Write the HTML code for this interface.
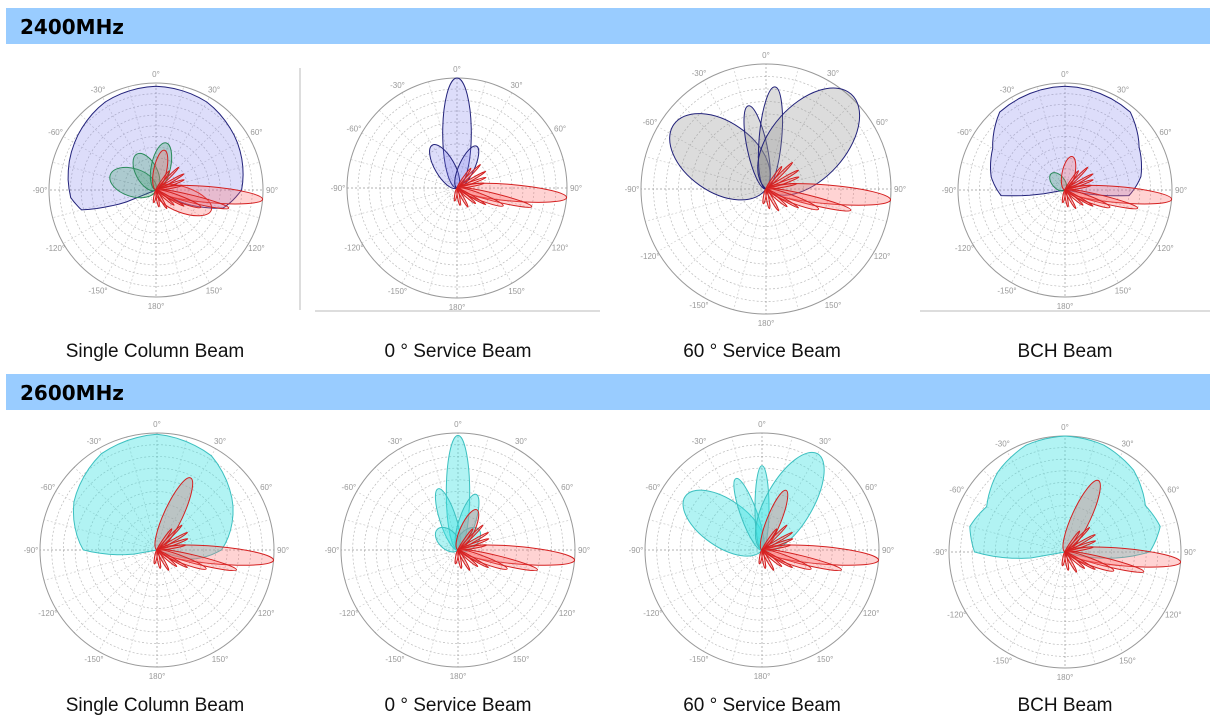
<!DOCTYPE html>
<html><head><meta charset="utf-8"><style>
html,body{margin:0;padding:0;background:#fff;width:1210px;height:720px;overflow:hidden;position:relative}
.bar{position:absolute;left:6px;width:1204px;height:36px;background:#99ccff;font:bold 20px "DejaVu Sans",sans-serif;line-height:38px;color:#000}
.bar span{margin-left:14px}
.cap{position:absolute;width:300px;text-align:center;font:19px "Liberation Sans",sans-serif;color:#111}
svg{position:absolute;left:0;top:0}
</style></head><body>
<div class="bar" style="top:8px"><span>2400MHz</span></div>
<div class="bar" style="top:374px"><span>2600MHz</span></div>
<div class="cap" style="left:5px;top:341px">Single Column Beam</div>
<div class="cap" style="left:308px;top:341px">0 ° Service Beam</div>
<div class="cap" style="left:612px;top:341px">60 ° Service Beam</div>
<div class="cap" style="left:915px;top:341px">BCH Beam</div>
<div class="cap" style="left:5px;top:695px">Single Column Beam</div>
<div class="cap" style="left:308px;top:695px">0 ° Service Beam</div>
<div class="cap" style="left:612px;top:695px">60 ° Service Beam</div>
<div class="cap" style="left:915px;top:695px">BCH Beam</div>
<svg id="s" width="1210" height="720" xmlns="http://www.w3.org/2000/svg">
<line x1="300" y1="68" x2="300" y2="310" stroke="#bbb"/>
<line x1="315" y1="311" x2="600" y2="311" stroke="#bbb"/>
<line x1="920" y1="311" x2="1210" y2="311" stroke="#bbb"/>
</svg>
<script>
var s=document.getElementById('s'),NS='http://www.w3.org/2000/svg';
function el(t,a,txt){var e=document.createElementNS(NS,t);for(var k in a)e.setAttribute(k,a[k]);if(txt)e.textContent=txt;s.appendChild(e);return e;}
function P(cx,cy,r,th){var a=th*Math.PI/180;return [cx+r*Math.sin(a),cy-r*Math.cos(a)];}
function grid(cx,cy,R){
 for(var i=1;i<=9;i++)el('circle',{cx:cx,cy:cy,r:R*i/10,fill:'none',stroke:'#bbb','stroke-width':0.7,'stroke-dasharray':'2,2'});
 for(var t=0;t<360;t+=15){var p=P(cx,cy,R,t);el('line',{x1:cx,y1:cy,x2:p[0],y2:p[1],stroke:(t%90?'#ccc':'#999'),'stroke-width':0.7,'stroke-dasharray':'2,2'});}
 el('circle',{cx:cx,cy:cy,r:R,fill:'none',stroke:'#999','stroke-width':1});
 var lb={0:'0°',30:'30°',60:'60°',90:'90°',120:'120°',150:'150°',180:'180°',210:'-150°',240:'-120°',270:'-90°',300:'-60°',330:'-30°'};
 for(var t in lb){var p=P(cx,cy,R+9,+t);el('text',{x:p[0],y:p[1]+3,'font-size':8,'font-family':'Liberation Sans','text-anchor':'middle',fill:'#999'},lb[t]);}
}
function blob(cx,cy,R,pts,fill,stroke){
 var d='M'+cx+','+cy;
 for(var i=0;i<pts.length-1;i++){var a=pts[i],b=pts[i+1];for(var j=0;j<6;j++){var f=j/6,th=a[0]+(b[0]-a[0])*f,r=a[1]+(b[1]-a[1])*f;var p=P(cx,cy,R*r,th);d+='L'+p[0].toFixed(1)+','+p[1].toFixed(1);}}
 var l=pts[pts.length-1],p=P(cx,cy,R*l[1],l[0]);d+='L'+p[0]+','+p[1]+'Z';
 el('path',{d:d,fill:fill,stroke:stroke,'stroke-width':1});
}
function lobe(cx,cy,R,a,L,b,fill,stroke){
 var c=P(cx,cy,R*L/2,a);
 el('ellipse',{cx:c[0],cy:c[1],rx:R*b,ry:R*L/2,transform:'rotate('+a+' '+c[0]+' '+c[1]+')',fill:fill,stroke:stroke,'stroke-width':1});
}
var RF='rgba(255,110,110,0.3)',RS='#d42020',BF='rgba(120,120,235,0.25)',BS='#22227a',GF='rgba(140,140,140,0.3)',CF='rgba(60,225,225,0.4)',CS='#3cc0c0',GRF='rgba(60,160,110,0.3)',GRS='#2a8a5a',PF='rgba(200,140,140,0.45)';
function reds(cx,cy,R){
 lobe(cx,cy,R,95,1.0,0.075,RF,RS);lobe(cx,cy,R,104,0.7,0.035,RF,RS);lobe(cx,cy,R,111,0.45,0.03,RF,RS);
 [[60,.3],[70,.28],[80,.25],[120,.3],[130,.22],[150,.2],[170,.16],[45,.3],[35,.22],[190,.12]].forEach(function(x){lobe(cx,cy,R,x[0],x[1],0.01,RF,RS);});
}
// Row1
var c=[156,190,107];grid(c[0],c[1],c[2]);
blob(c[0],c[1],c[2],[[-112,0.3],[-105,0.72],[-95,0.8],[-60,0.88],[-30,0.95],[0,0.97],[30,0.95],[60,0.88],[90,0.8],[105,0.65],[115,0.3],[120,0]],BF,BS);
lobe(c[0],c[1],c[2],-72,0.45,0.13,GRF,GRS);lobe(c[0],c[1],c[2],-28,0.38,0.1,GRF,GRS);lobe(c[0],c[1],c[2],12,0.45,0.09,GRF,GRS);
lobe(c[0],c[1],c[2],12,0.38,0.06,RF,RS);lobe(c[0],c[1],c[2],110,0.55,0.12,RF,RS);reds(c[0],c[1],c[2]);
c=[457,188,110];grid(c[0],c[1],c[2]);
lobe(c[0],c[1],c[2],0,1.0,0.13,BF,BS);lobe(c[0],c[1],c[2],-30,0.45,0.09,BF,BS);lobe(c[0],c[1],c[2],25,0.42,0.07,BF,BS);reds(c[0],c[1],c[2]);
c=[766,189,125];grid(c[0],c[1],c[2]);
lobe(c[0],c[1],c[2],-55,0.9,0.28,GF,BS);lobe(c[0],c[1],c[2],-12,0.68,0.08,GF,BS);lobe(c[0],c[1],c[2],5,0.82,0.09,GF,BS);lobe(c[0],c[1],c[2],42,1.02,0.3,GF,BS);reds(c[0],c[1],c[2]);
c=[1065,190,107];grid(c[0],c[1],c[2]);
blob(c[0],c[1],c[2],[[-100,0.2],[-95,0.6],[-80,0.7],[-60,0.78],[-40,0.95],[0,0.97],[40,0.95],[60,0.8],[80,0.72],[95,0.6],[100,0.2]],BF,BS);
lobe(c[0],c[1],c[2],-40,0.2,0.06,GRF,GRS);lobe(c[0],c[1],c[2],12,0.32,0.06,RF,RS);reds(c[0],c[1],c[2]);
// Row2
c=[157,550,117];grid(c[0],c[1],c[2]);
blob(c[0],c[1],c[2],[[-100,0.2],[-90,0.63],[-60,0.82],[-30,0.95],[0,0.99],[30,0.93],[60,0.75],[90,0.55],[105,0.3],[112,0]],CF,CS);
lobe(c[0],c[1],c[2],25,0.68,0.08,PF,RS);reds(c[0],c[1],c[2]);
c=[458,550,117];grid(c[0],c[1],c[2]);
lobe(c[0],c[1],c[2],0,0.98,0.1,CF,CS);lobe(c[0],c[1],c[2],-18,0.55,0.07,CF,CS);lobe(c[0],c[1],c[2],18,0.5,0.07,CF,CS);lobe(c[0],c[1],c[2],-45,0.25,0.08,CF,CS);lobe(c[0],c[1],c[2],45,0.25,0.08,CF,CS);
lobe(c[0],c[1],c[2],25,0.38,0.06,PF,RS);reds(c[0],c[1],c[2]);
c=[762,550,117];grid(c[0],c[1],c[2]);
lobe(c[0],c[1],c[2],-55,0.8,0.2,CF,CS);lobe(c[0],c[1],c[2],-20,0.65,0.07,CF,CS);lobe(c[0],c[1],c[2],0,0.72,0.06,CF,CS);lobe(c[0],c[1],c[2],30,0.95,0.2,CF,CS);
lobe(c[0],c[1],c[2],22,0.55,0.06,PF,RS);reds(c[0],c[1],c[2]);
c=[1065,552,116];grid(c[0],c[1],c[2]);
blob(c[0],c[1],c[2],[[-100,0.3],[-90,0.78],[-75,0.85],[-60,0.78],[-40,0.9],[-20,0.98],[0,1.0],[20,0.98],[40,0.92],[60,0.8],[75,0.85],[90,0.73],[100,0.3],[108,0]],CF,CS);
lobe(c[0],c[1],c[2],25,0.68,0.08,PF,RS);reds(c[0],c[1],c[2]);
</script>
</body></html>
